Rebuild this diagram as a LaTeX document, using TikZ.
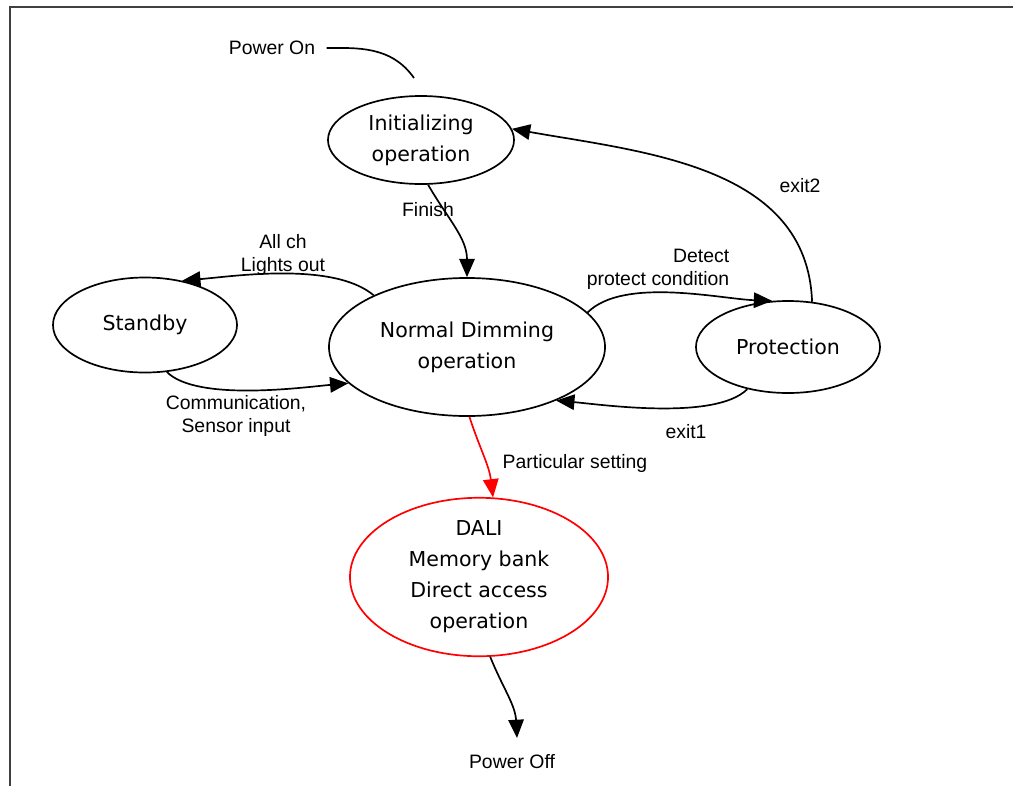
\documentclass[tikz,border=0pt]{standalone}
\usepackage{fontspec}
\setmainfont{Liberation Sans}
\newfontfamily\statefont{DejaVu Sans}
\usetikzlibrary{shapes.geometric,arrows.meta}
\tikzset{
	state/.style={ellipse, draw, line width=1.2pt, inner sep=0pt, align=center,
		font=\statefont\fontsize{14.6}{22}\selectfont},
	lbl/.style={inner sep=1pt, align=center, font=\fontsize{13.8}{16.3}\selectfont},
	trans/.style={line width=1.2pt, -{Triangle[length=13pt,width=11pt]}},
}
\begin{document}
\begin{tikzpicture}[x=0.025cm,y=0.025cm]
				\useasboundingbox (0,0) rectangle (1013,-785);
				\draw[black!75, line width=1.3pt] (10,-800) |- (1030,-7);
				%
				\coordinate (c-init) at (421,-140);
				\coordinate (c-stby) at (145,-325);
				\coordinate (c-norm) at (467,-347);
				\coordinate (c-prot) at (788,-347);
				\coordinate (c-dali) at (479,-577);
				\coordinate (onend) at (414,-78);
				\coordinate (offend) at (517,-738);
				%
				\node[state, minimum width=4.65cm, minimum height=2.2cm] (init) at (c-init) {Initializing\\operation};
				\node[state, minimum width=4.6cm, minimum height=2.375cm] (stby) at (c-stby) {Standby};
				\node[state, minimum width=6.9cm, minimum height=3.45cm] (norm) at (c-norm) {Normal Dimming\\operation};
				\node[state, minimum width=4.6cm, minimum height=2.3cm] (prot) at (c-prot) {Protection};
				\node[state, red, text=black, minimum width=6.45cm, minimum height=3.5cm] (dali) at (c-dali) {DALI\\Memory bank\\Direct access\\operation};
				%
				\node[lbl] (pon) at (272,-48) {Power On};
				\node[lbl] (poff) at (512,-762) {Power Off};
				\node[lbl] (l-fin) at (428,-210) {Finish};
				\node[lbl] (l-ex2) at (800,-186) {exit2};
				\node[lbl] (l-out) at (283,-255) {All ch\\Lights out};
				\node[lbl] (l-com) at (236,-416) {Communication,\\Sensor input};
				\node[lbl, align=right] (l-det) at (658,-269) {Detect\\protect condition};
				\node[lbl] (l-ex1) at (686,-432) {exit1};
				\node[lbl] (l-par) at (575,-463) {Particular setting};
				%
				\draw[line width=1.2pt, shorten <=7pt] (pon.east) to[out=0,in=125] (onend);
				\draw[trans] (init.-81) to[out=-60,in=90] (norm.90);
				\draw[trans] (prot.62) to[out=92,in=-10] (init.7);
				\draw[trans] (norm.151) to[out=140,in=5,looseness=0.7] (stby.50);
				\draw[trans] (stby.-65) to[out=-45,in=185,looseness=0.6] (norm.-163);
				\draw[trans] (norm.16) to[out=45,in=178,looseness=0.7] (prot.109);
				\draw[trans] (prot.-134) to[out=-135,in=-5,looseness=0.6] (norm.-31);
				\draw[trans, red] (norm.-88) to[out=-72,in=97] (dali.80);
				\draw[trans] (dali.-82) to[out=-68,in=93] (offend);
			\end{tikzpicture}
\end{document}
